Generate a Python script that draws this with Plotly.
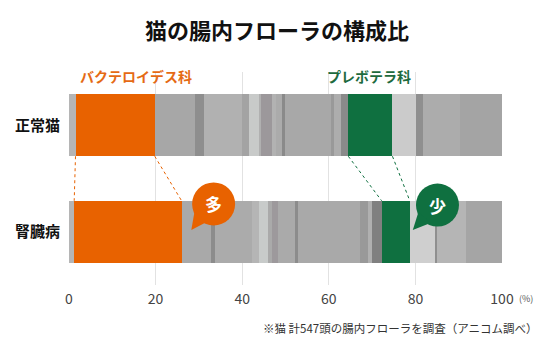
import plotly.graph_objects as go
import numpy as np

# ---------------- data ----------------
title_text = "猫の腸内フローラの構成比"
row_labels = ["正常猫", "腎臓病"]
row_values = [1, 0]  # top row, bottom row

# share (%) of each bacterial family, left to right
normal_shares = [1.5, 18.3, 9.2, 2.1, 8.9, 1.5, 2.3, 0.5, 2.6, 1.0, 1.5, 0.4,
                 10.8, 0.5, 1.7, 1.7, 10.2, 5.5, 1.5, 8.5, 9.8]
kidney_shares = [1.2, 24.8, 6.9, 0.8, 8.5, 1.7, 2.1, 0.9, 1.4, 3.9, 0.8, 14.2,
                 1.9, 0.8, 2.3, 6.5, 5.8, 0.5, 6.8, 8.2]

# index of highlighted families in each row
normal_bacteroidaceae = 1
normal_prevotellaceae = 16
kidney_bacteroidaceae = 1
kidney_prevotellaceae = 15

family_labels = ["バクテロイデス科", "プレボテラ科"]
bubble_texts = ["多", "少"]
x_tick_values = [0, 20, 40, 60, 80, 100]
unit_text = "(%)"
footnote = "※猫 計547頭の腸内フローラを調査（アニコム調べ）"

# ---------------- styles ----------------
ORANGE = "#E86200"
GREEN = "#0F7040"
normal_colors = ["#b5b5b5", ORANGE, "#a7a7a7", "#8e8e8e", "#b1b1b1", "#a3a3a3",
                 "#c8cac9", "#b0b0b0", "#9c989b", "#b2b2b2", "#ababab", "#8a8a8a",
                 "#a8a8a8", "#999999", "#adadad", "#8a8a8a", GREEN, "#cbcbcb",
                 "#8f8f8f", "#acacac", "#a4a4a4"]
kidney_colors = ["#b5b5b5", ORANGE, "#a9a9a9", "#8c8c8c", "#ababab", "#b5b5b5",
                 "#c8cbca", "#aaaaaa", "#9d999c", "#aaaaaa", "#8c8c8c", "#a9a9a9",
                 "#999999", "#b0b0b0", "#808080", GREEN, "#cfcfcf", "#8f8f8f",
                 "#b5b5b5", "#a5a5a5"]
FONT = "Noto Sans CJK JP"
BAR_W = 0.582

fig = go.Figure()
for yv, shares, cols in [(row_values[0], normal_shares, normal_colors),
                         (row_values[1], kidney_shares, kidney_colors)]:
    shares = np.array(shares, dtype=float)
    starts = np.concatenate([[0], np.cumsum(shares)[:-1]])
    fig.add_trace(go.Bar(
        y=[yv] * len(shares), x=shares, base=starts, orientation="h",
        width=BAR_W, marker=dict(color=cols, line=dict(width=0)),
        hoverinfo="x", showlegend=False))

def edges(shares, idx):
    c = np.concatenate([[0], np.cumsum(shares)])
    return c[idx], c[idx + 1]

shapes = []
half = BAR_W / 2
for (ni, ki, col) in [(normal_bacteroidaceae, kidney_bacteroidaceae, ORANGE),
                      (normal_prevotellaceae, kidney_prevotellaceae, GREEN)]:
    n0, n1 = edges(normal_shares, ni)
    k0, k1 = edges(kidney_shares, ki)
    for a, b in [(n0, k0), (n1, k1)]:
        shapes.append(dict(type="line", xref="x", yref="y",
                           x0=a, y0=row_values[0] - half, x1=b, y1=row_values[1] + half,
                           line=dict(color=col, width=1, dash="dot"), layer="above"))

# speech bubbles
bubbles = [(33.4, 0.261, ORANGE, bubble_texts[0], (-22.3, -26)),
           (85.1, 0.251, GREEN, bubble_texts[1], (-24.7, -25))]
annotations = []
R = 21.5
for bx, by, col, txt, tip in bubbles:
    shapes.append(dict(type="circle", xref="x", yref="y", xsizemode="pixel", ysizemode="pixel",
                       xanchor=bx, yanchor=by, x0=-R, x1=R, y0=-R, y1=R,
                       fillcolor=col, line=dict(width=0), layer="above"))
    shapes.append(dict(type="path", xref="x", yref="y", xsizemode="pixel", ysizemode="pixel",
                       xanchor=bx, yanchor=by,
                       path=f"M -19,-7 L {tip[0]},{tip[1]} L -7,-18 Z",
                       fillcolor=col, line=dict(width=0), layer="above"))
    annotations.append(dict(x=bx, y=by, xref="x", yref="y", text=txt, showarrow=False,
                            font=dict(family=FONT, size=17, color="white", weight="bold")))

# family labels
annotations.append(dict(x=2.0, y=0.981, xref="x", yref="paper", text=family_labels[0],
                        showarrow=False, xanchor="left", yanchor="middle",
                        font=dict(family=FONT, size=14, color="#E56A14", weight="bold")))
annotations.append(dict(x=59.2, y=0.981, xref="x", yref="paper", text=family_labels[1],
                        showarrow=False, xanchor="left", yanchor="middle",
                        font=dict(family=FONT, size=14, color="#1E6B3E", weight="bold")))
# unit
annotations.append(dict(x=100, y=0, xref="x", yref="paper", text=unit_text, showarrow=False,
                        xanchor="left", yanchor="middle", xshift=15, yshift=-13,
                        font=dict(family=FONT, size=9, color="#555")))
# footnote
annotations.append(dict(x=1.088, y=-0.2, xref="paper", yref="paper", text=footnote,
                        showarrow=False, xanchor="right", yanchor="middle",
                        font=dict(family=FONT, size=11.5, color="#333")))

fig.update_layout(
    width=554, height=354,
    margin=dict(l=69, r=52, t=72, b=69),
    paper_bgcolor="white", plot_bgcolor="white",
    barmode="overlay", bargap=0,
    title=dict(text=title_text, x=0.5, xref="container", xanchor="center",
               y=1 - 31 / 354, yref="container", yanchor="middle",
               font=dict(family=FONT, size=22, color="#111", weight="bold")),
    xaxis=dict(range=[0, 100], tickvals=x_tick_values, showgrid=True,
               gridcolor="#e2e2e2", gridwidth=1, zeroline=False, showline=False,
               ticks="", ticklabelstandoff=4,
               tickfont=dict(family=FONT, size=14, color="#444"),
               fixedrange=True),
    yaxis=dict(range=[-0.5, 1.5], tickvals=row_values, ticktext=row_labels,
               showgrid=False, zeroline=False, showline=False, ticks="",
               ticklabelstandoff=8,
               tickfont=dict(family=FONT, size=15, color="#111", weight="bold"),
               fixedrange=True),
    shapes=shapes, annotations=annotations,
)

fig.write_html("out.html")
